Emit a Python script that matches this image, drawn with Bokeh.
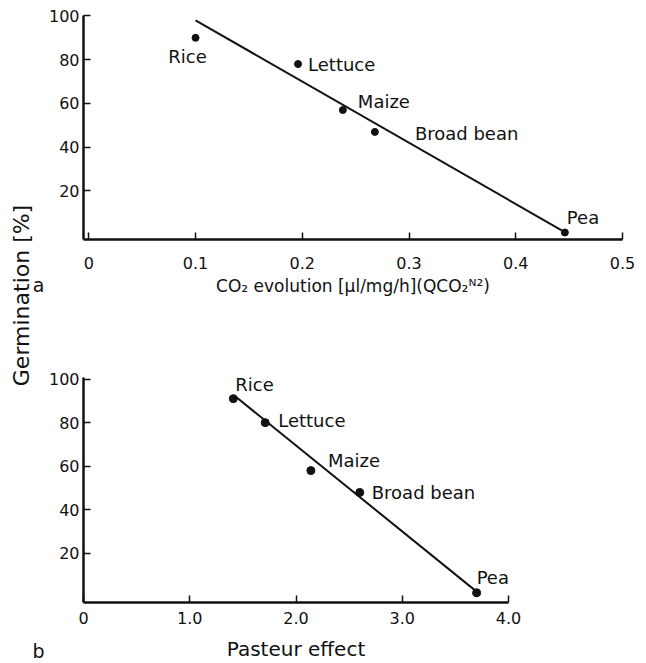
import math
from bokeh.plotting import figure
from bokeh.layouts import row, column
from bokeh.models import Range1d, FixedTicker, ColumnDataSource
from bokeh.embed import file_html
from bokeh.resources import INLINE
from bokeh.core.properties import value

# ---------------- data ----------------
crops = ["Rice", "Lettuce", "Maize", "Broad bean", "Pea"]

co2_evolution = [0.100, 0.196, 0.238, 0.268, 0.446]
germination_a = [90, 78, 57, 47, 1]

pasteur_effect = [1.41, 1.71, 2.14, 2.60, 3.70]
germination_b = [91, 80, 58, 48, 2]

fit_a_x = [0.100, 0.443]
fit_a_y = [98, 2]
fit_b_x = [1.43, 3.70]
fit_b_y = [92, 2.5]

x_ticks_a = [0, 0.1, 0.2, 0.3, 0.4, 0.5]
x_tick_labels_a = ["0", "0.1", "0.2", "0.3", "0.4", "0.5"]
x_ticks_b = [0, 1, 2, 3, 4]
x_tick_labels_b = ["0", "1.0", "2.0", "3.0", "4.0"]
y_ticks = [20, 40, 60, 80, 100]
y_tick_labels = ["20", "40", "60", "80", "100"]

x_label_a = "CO\u2082 evolution [\u03bcl/mg/h](QCO\u2082\u1d3a\u00b2)"
x_label_b = "Pasteur effect"
y_label = "Germination [%]"
panel_letters = ["a", "b"]

# label placement (pixels, styles only)
dx_a = [-8, 10, 15, 40, 2]
dy_a = [19, 0, -9, 2, -15]
align_a = ["center", "left", "left", "left", "left"]
dx_b = [2, 13, 17, 12, 0]
dy_b = [-14, -2, -10, 0, -15]
align_b = ["left", "left", "left", "left", "left"]

FONT = "DejaVu Sans"
INK = "#111111"
LEFT_W = 45
W = 646 - LEFT_W
H = 663


def panel(height, xr, yr, borders, xticks, xlabels, xlabel, xlabel_size,
          tick_standoff, label_standoff):
    p = figure(width=W, height=height, x_range=Range1d(*xr), y_range=Range1d(*yr),
               output_backend="svg", toolbar_location=None,
               min_border_left=80 - LEFT_W, min_border_right=borders[2],
               min_border_top=borders[0], min_border_bottom=borders[1])
    p.outline_line_color = None
    p.grid.visible = False
    p.background_fill_color = "white"
    p.border_fill_color = "white"
    for ax in (p.xaxis[0], p.yaxis[0]):
        ax.axis_line_width = 2.5
        ax.axis_line_color = INK
        ax.major_tick_line_color = INK
        ax.major_tick_line_width = 1.5
        ax.major_tick_in = 7
        ax.major_tick_out = 0
        ax.minor_tick_line_color = None
        ax.major_label_text_font = FONT
        ax.major_label_text_font_size = "16px"
        ax.major_label_text_color = INK
    p.xaxis.ticker = FixedTicker(ticks=xticks)
    p.xaxis.major_label_overrides = dict(zip(xticks, xlabels))
    p.xaxis.major_label_standoff = tick_standoff
    p.xaxis.axis_label = xlabel
    p.xaxis.axis_label_text_font = FONT
    p.xaxis.axis_label_text_font_size = xlabel_size
    p.xaxis.axis_label_text_font_style = "normal"
    p.xaxis.axis_label_text_color = INK
    p.xaxis.axis_label_standoff = label_standoff
    p.yaxis.ticker = FixedTicker(ticks=y_ticks)
    p.yaxis.major_label_overrides = dict(zip(y_ticks, y_tick_labels))
    p.yaxis.major_label_standoff = 4
    return p


def add_series(p, xs, ys, fx, fy, dx, dy, align, size):
    p.line(fx, fy, line_color=INK, line_width=2)
    p.scatter(xs, ys, size=size, fill_color=INK, line_color=INK)
    src = ColumnDataSource(dict(x=xs, y=ys, t=crops, dx=dx, dy=dy, al=align))
    p.text(x="x", y="y", text="t", x_offset="dx", y_offset="dy", text_align="al",
           text_baseline="middle", source=src, text_font=value(FONT),
           text_font_size=value("18px"), text_color=INK)


# panel a
pa = panel(340, (-0.005, 0.5), (-2.2, 100.2), (15, 101, 24),
           x_ticks_a, x_tick_labels_a, x_label_a, "17px", 17, 4)
add_series(pa, co2_evolution, germination_a, fit_a_x, fit_a_y, dx_a, dy_a, align_a, 7)

# panel b
pb = panel(H - 340, (0, 4.0), (-2.5, 100.7), (37, 61, 138),
           x_ticks_b, x_tick_labels_b, x_label_b, "20px", 9, 10)
add_series(pb, pasteur_effect, germination_b, fit_b_x, fit_b_y, dx_b, dy_b, align_b, 8)

# left strip: shared y label and panel letters
pl = figure(width=LEFT_W, height=H, x_range=Range1d(0, LEFT_W), y_range=Range1d(0, H),
            output_backend="svg", toolbar_location=None,
            x_axis_location=None, y_axis_location=None,
            min_border_left=0, min_border_right=0, min_border_top=0, min_border_bottom=0)
pl.outline_line_color = None
pl.grid.visible = False
pl.text(x=[21], y=[H - 295], text=[y_label], angle=math.pi / 2, text_align="center",
        text_baseline="middle", text_font=value(FONT), text_font_size=value("22px"),
        text_color=INK)
pl.text(x=[LEFT_W - 1, LEFT_W - 1], y=[H - 284, H - 650], text=panel_letters,
        text_align="right", text_baseline="middle", text_font=value(FONT),
        text_font_size=value("19px"), text_color=INK)

layout = row(pl, column(row(pa), row(pb)))
open("out.html", "w").write(file_html(layout, INLINE))
